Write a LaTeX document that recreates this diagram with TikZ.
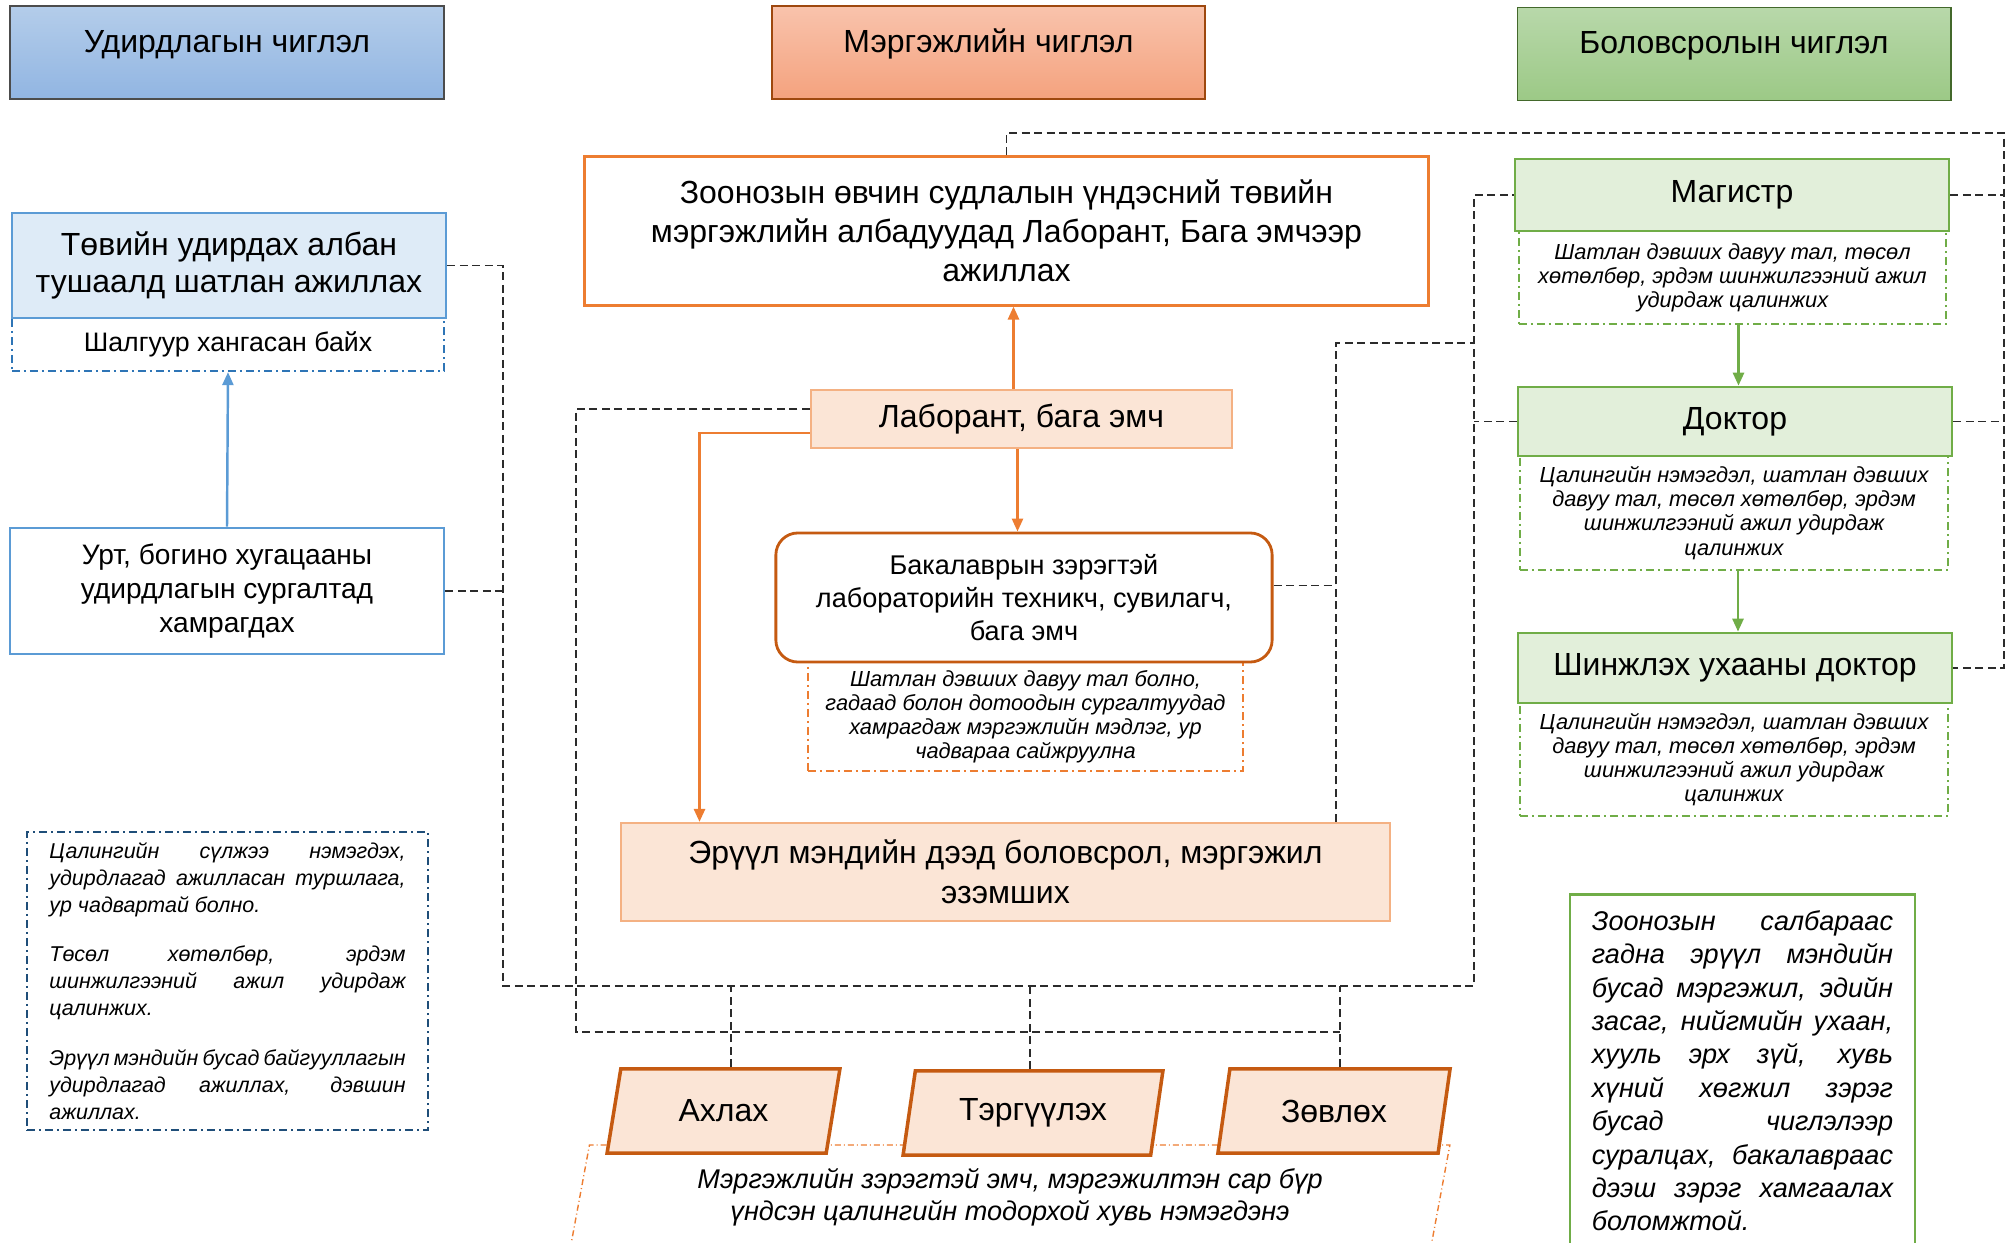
\documentclass[tikz,border=0pt]{standalone}
\usepackage{fontspec}
\setmainfont{Liberation Sans}
\usetikzlibrary{shapes.geometric,arrows.meta,calc}

\definecolor{hdblueT}{HTML}{B4CDEA}
\definecolor{hdblueB}{HTML}{91B5E2}
\definecolor{hdorgT}{HTML}{F9C3AC}
\definecolor{hdorgB}{HTML}{F4A27E}
\definecolor{hdgrnT}{HTML}{B8D8AA}
\definecolor{hdgrnB}{HTML}{9CC986}
\definecolor{mgblue}{HTML}{5B9BD5}
\definecolor{mgbluefill}{HTML}{DEEBF7}
\definecolor{mgbluedark}{HTML}{2E75B6}
\definecolor{navy}{HTML}{1F4E79}
\definecolor{prorange}{HTML}{ED7D31}
\definecolor{prpeach}{HTML}{FBE5D6}
\definecolor{prpeachline}{HTML}{F4B183}
\definecolor{prbrown}{HTML}{C55A11}
\definecolor{edgreen}{HTML}{70AD47}
\definecolor{edgreenfill}{HTML}{E2EFDA}
\definecolor{linkgray}{HTML}{2B2B2B}

\hyphenpenalty=10000
\exhyphenpenalty=10000

\begin{document}
\begin{tikzpicture}[x=0.01cm, y=-0.01cm,
    head/.style={draw, line width=0.5pt, minimum width=4.33cm, minimum height=0.93cm, inner sep=0pt,
        text height=0.465cm, text depth=0.465cm, font=\fontsize{9.1}{11}\selectfont},
    mgbox/.style={draw=mgblue, line width=0.7pt, inner sep=0pt, align=center, font=\fontsize{9.1}{10.5}\selectfont},
    prbox/.style={draw=prpeachline, fill=prpeach, line width=0.6pt, inner sep=0pt, align=center,
        font=\fontsize{9.1}{11.2}\selectfont},
    edbox/.style={draw=edgreen, fill=edgreenfill, line width=0.75pt, minimum width=4.34cm, inner sep=0pt,
        font=\fontsize{9.1}{11}\selectfont},
    notebox/.style={fill=white, line width=0.65pt, inner sep=0pt, align=center,
        dash pattern=on 0.08cm off 0.04cm on 0.02cm off 0.04cm},
    smallit/.style={font=\itshape\fontsize{6.2}{6.85}\selectfont},
    grade/.style={trapezium, trapezium left angle=75, trapezium right angle=105, trapezium stretches=true,
        draw=prbrown, fill=prpeach, line width=1pt, minimum height=0.84cm, inner sep=0pt,
        font=\fontsize{9.1}{11}\selectfont},
    link/.style={draw=linkgray, line width=0.5pt, dash pattern=on 0.08cm off 0.045cm},
    marrow/.style={draw=mgblue, line width=0.7pt, -{Triangle[length=0.13cm, width=0.11cm]}},
    parrow/.style={draw=prorange, line width=0.75pt, -{Triangle[length=0.13cm, width=0.11cm]}},
    earrow/.style={draw=edgreen, line width=0.75pt, -{Triangle[length=0.13cm, width=0.11cm]}}]

    \useasboundingbox (0,0) rectangle (2008,1243);

    % headers
    \node[head, draw=black!70, top color=hdblueT, bottom color=hdblueB] (hdMgmt) at (227,52.5) {Удирдлагын чиглэл};
    \node[head, draw=prbrown!80!black, top color=hdorgT, bottom color=hdorgB] (hdProf) at (988.5,52.5) {Мэргэжлийн чиглэл};
    \node[head, draw=edgreen!60!black, top color=hdgrnT, bottom color=hdgrnB] (hdEdu) at (1734,54) {Боловсролын чиглэл};

    % management
    \node[notebox, draw=mgbluedark, minimum width=4.32cm, minimum height=0.53cm,
        font=\fontsize{7.6}{9}\selectfont] (crit) at (228,344.5) {Шалгуур хангасан байх};
    \node[mgbox, fill=mgbluefill, minimum width=4.34cm, minimum height=1.05cm] (b1) at (229,265.5)
        {Төвийн удирдах албан\\тушаалд шатлан ажиллах};
    \node[mgbox, minimum width=4.34cm, minimum height=1.26cm, font=\fontsize{8}{9.7}\selectfont] (b2) at (227,591)
        {Урт, богино хугацааны\\удирдлагын сургалтад\\хамрагдах};
    \node[notebox, draw=navy, minimum width=4.01cm, minimum height=2.98cm, text width=3.56cm, align=justify,
        font=\itshape\fontsize{6.1}{7.7}\selectfont] (mgNote) at (227.5,981)
        {Цалингийн сүлжээ нэмэгдэх,\linebreak удирдлагад ажилласан туршлага,\linebreak ур чадвартай болно.\par\vspace{6.3pt}
         Төсөл хөтөлбөр, эрдэм\linebreak шинжилгээний ажил удирдаж\linebreak цалинжих.\par\vspace{6.3pt}
         Эрүүл мэндийн бусад байгууллагын\linebreak удирдлагад ажиллах, дэвшин\linebreak ажиллах.};

    % profession
    \node[draw=prorange, fill=white, line width=0.85pt, inner sep=0pt, align=center,
        minimum width=8.43cm, minimum height=1.48cm, font=\fontsize{9.1}{11.1}\selectfont] (zoon) at (1006.5,231)
        {Зоонозын өвчин судлалын үндэсний төвийн\\мэргэжлийн албадуудад Лаборант, Бага эмчээр\\ажиллах};
    \node[prbox, minimum width=4.21cm, minimum height=0.58cm] (lab) at (1021.5,419) {Лаборант, бага эмч};
    \node[notebox, draw=prorange, smallit, minimum width=4.35cm, minimum height=1.09cm] (bakNote) at (1025.5,716.5)
        {Шатлан дэвших давуу тал болно,\\гадаад болон дотоодын сургалтуудад\\хамрагдаж мэргэжлийн мэдлэг, ур\\чадвараа сайжруулна};
    \node[draw=prbrown, fill=white, line width=0.8pt, rounded corners=0.22cm, inner sep=0pt, align=center,
        minimum width=4.96cm, minimum height=1.29cm, font=\fontsize{7.7}{9.4}\selectfont] (bak) at (1024,597.5)
        {Бакалаврын зэрэгтэй\\лабораторийн техникч, сувилагч,\\бага эмч};
    \node[prbox, minimum width=7.69cm, minimum height=0.98cm, font=\fontsize{9.1}{11.4}\selectfont] (eru) at (1005.5,872)
        {Эрүүл мэндийн дээд боловсрол, мэргэжил\\эзэмших};
    \node[trapezium, trapezium left angle=76, trapezium right angle=104, trapezium stretches=true,
        draw=prorange, line width=0.4pt, dash pattern=on 0.06cm off 0.03cm on 0.01cm off 0.03cm,
        minimum width=8.8cm, minimum height=1.04cm, inner sep=0pt, align=center,
        font=\itshape\fontsize{7.7}{9.1}\selectfont] (payNote) at (1010,1197)
        {Мэргэжлийн зэрэгтэй эмч, мэргэжилтэн сар бүр\\үндсэн цалингийн тодорхой хувь нэмэгдэнэ};
    \node[grade, minimum width=2.33cm] (ahl) at (723.5,1111) {Ахлах};
    \node[grade, minimum width=2.60cm] (ter) at (1033,1113) {Тэргүүлэх};
    \node[grade, minimum width=2.32cm] (zov) at (1334,1111) {Зөвлөх};

    % education
    \node[notebox, draw=edgreen, smallit, minimum width=4.27cm, minimum height=0.93cm] (magNote) at (1732.5,277.5)
        {Шатлан дэвших давуу тал, төсөл\\хөтөлбөр, эрдэм шинжилгээний ажил\\удирдаж цалинжих};
    \node[edbox, minimum height=0.72cm] (mag) at (1732,195) {Магистр};
    \node[notebox, draw=edgreen, smallit, minimum width=4.28cm, minimum height=1.14cm] (dokNote) at (1734,513)
        {Цалингийн нэмэгдэл, шатлан дэвших\\давуу тал, төсөл хөтөлбөр, эрдэм\\шинжилгээний ажил удирдаж\\цалинжих};
    \node[edbox, minimum height=0.69cm] (dok) at (1735,421.5) {Доктор};
    \node[notebox, draw=edgreen, smallit, minimum width=4.28cm, minimum height=1.13cm] (shdNote) at (1734,759.5)
        {Цалингийн нэмэгдэл, шатлан дэвших\\давуу тал, төсөл хөтөлбөр, эрдэм\\шинжилгээний ажил удирдаж\\цалинжих};
    \node[edbox, minimum height=0.70cm] (shd) at (1735,668) {Шинжлэх ухааны доктор};
    \node[draw=edgreen, line width=0.75pt, anchor=north, text width=3.01cm, inner xsep=0.22cm, inner ysep=0.16cm,
        align=justify, font=\itshape\fontsize{7.7}{9.5}\selectfont] (eduNote) at (1742.5,893)
        {Зоонозын салбараас\linebreak гадна эрүүл мэндийн\linebreak бусад мэргэжил, эдийн\linebreak
         засаг, нийгмийн ухаан,\linebreak хууль эрх зүй, хувь\linebreak хүний хөгжил зэрэг\linebreak
         бусад чиглэлээр\linebreak суралцах, бакалавраас\linebreak дээш зэрэг хамгаалах\linebreak боломжтой.};

    % arrows
    \draw[marrow] (b2.north) -- (crit.south);
    \coordinate (labTop) at ($(lab.north)+(-8,0)$);
    \draw[parrow] (labTop) -- (labTop |- zoon.south);
    \coordinate (labBot) at ($(lab.south)+(-4,0)$);
    \draw[parrow] (labBot) -- (labBot |- bak.north);
    \draw[parrow] ($(lab.west)+(0,14)$) -| ($(eru.north)+(-306,0)$);
    \coordinate (magBot) at ($(magNote.south)+(6,0)$);
    \draw[earrow] (magBot) -- (magBot |- dok.north);
    \coordinate (dokBot) at ($(dokNote.south)+(4,0)$);
    \draw[earrow] (dokBot) -- (dokBot |- shd.north);

    % dashed links
    \coordinate (mgBL) at (503,986);
    \coordinate (mgBR) at (1474,986);
    \draw[link] (b1.east) -| (mgBL) -- (mgBR) |- (mag.west);
    \draw[link] (b2.east) -- (b2.east -| mgBL);
    \draw[link] (dok.west) -- (dok.west -| mgBR);
    \coordinate (prT) at (1336,343);
    \draw[link] (eru.north -| prT) -- (prT) -- (prT -| mgBR);
    \coordinate (bakR) at ($(bak.east)+(0,-12)$);
    \draw[link] (bakR) -- (bakR -| prT);
    \coordinate (prBL) at (576,1032);
    \draw[link] ($(lab.west)+(0,-10)$) -| (prBL) -- (prBL -| zov.top side);
    \coordinate (terTop) at ($(ter.top side)+(-9,0)$);
    \draw[link] (ahl.top side) -- (ahl.top side |- mgBL);
    \draw[link] (terTop) -- (terTop |- mgBL);
    \draw[link] (zov.top side) -- (zov.top side |- mgBL);
    \coordinate (edR) at (2004,133);
    \draw[link] (zoon.north) |- (edR) |- (shd.east);
    \draw[link] (mag.east) -- (mag.east -| edR);
    \draw[link] (dok.east) -- (dok.east -| edR);
\end{tikzpicture}
\end{document}
